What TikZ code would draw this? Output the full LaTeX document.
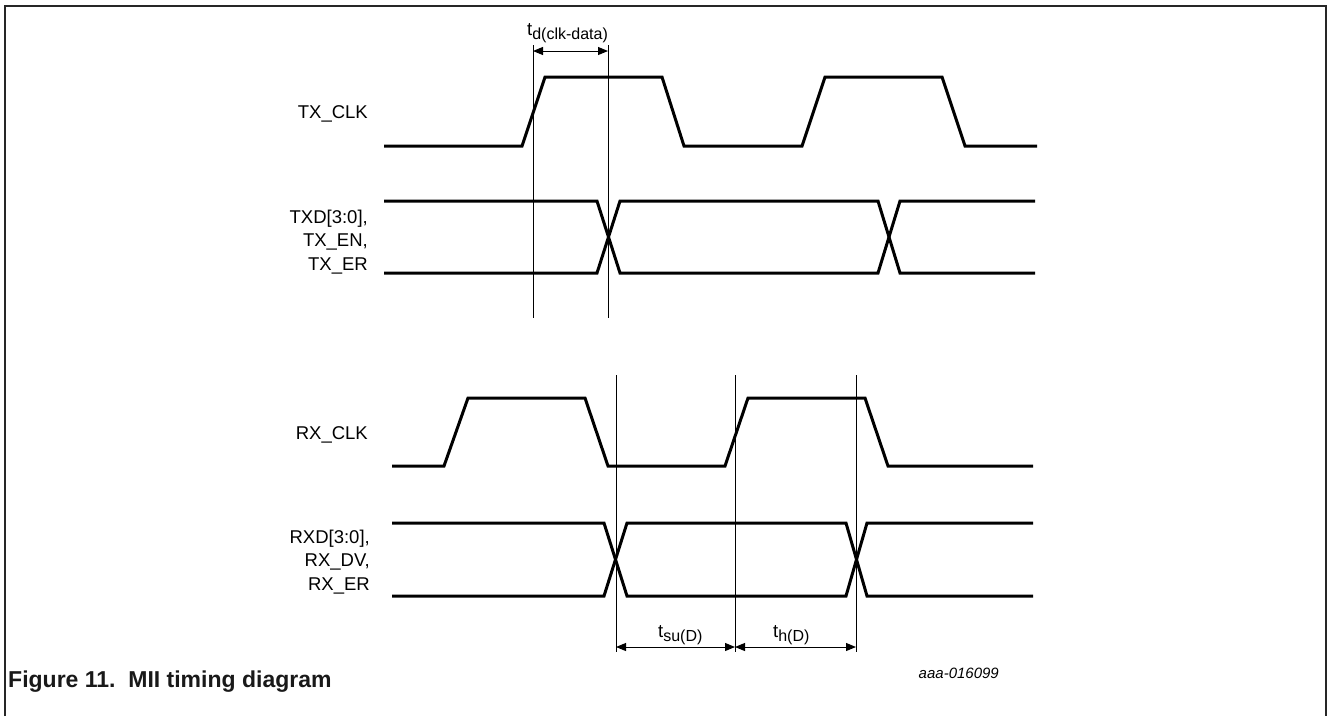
\documentclass[tikz,border=0pt]{standalone}
\usepackage{fontspec}
\setmainfont{Liberation Sans}
\usetikzlibrary{arrows.meta}

\tikzset{%
  % Specifications for style of lines and labels:
        wave/.style = {line width=3pt, line join=miter, line cap=butt},
      marker/.style = {line width=1pt},
         dim/.style = {line width=1pt, {Triangle[length=10pt,width=8pt]}-{Triangle[length=10pt,width=8pt]}},
    siglabel/.style = {align=right, anchor=east, inner sep=0pt, font=\fontsize{18.5}{23.5}\selectfont},
   timelabel/.style = {anchor=base west, inner sep=0pt, font=\fontsize{18.5}{22}\selectfont},
}
\newcommand{\tparam}[1]{t\raisebox{-4.5pt}{\fontsize{16}{18}\selectfont #1}}

\begin{document}
\begin{tikzpicture}[x=1pt, y=-1pt]
    \useasboundingbox (0,0) rectangle (1328,716);

    % Frame
    \draw[line width=2pt, gray!30!black] (5,716) -- (5,6) -- (1326,6) -- (1326,716);

    % Signal names
    \node (txclk)  [siglabel] at (368,114) {TX\_CLK};
    \node (txd)    [siglabel] at (368,242) {TXD[3:0],\\TX\_EN,\\TX\_ER};
    \node (rxclk)  [siglabel] at (368,435) {RX\_CLK};
    \node (rxd)    [siglabel] at (370,562) {RXD[3:0],\\RX\_DV,\\RX\_ER};

    % Draw waveforms
    \draw[wave] (384,146) -- (522,146) -- (545,77) -- (662,77) -- (684,146) -- (802,146)
                -- (825,77) -- (942,77) -- (965,146) -- (1037,146);
    \draw[wave] (384,201) -- (597,201) -- (620,273) -- (878,273) -- (900,201) -- (1035,201);
    \draw[wave] (384,273) -- (597,273) -- (620,201) -- (878,201) -- (900,273) -- (1035,273);

    \draw[wave] (392,466) -- (444,466) -- (468,398) -- (585,398) -- (608,466) -- (725,466)
                -- (748,398) -- (865,398) -- (888,466) -- (1033,466);
    \draw[wave] (392,523) -- (604,523) -- (627,596) -- (846,596) -- (867,523) -- (1033,523);
    \draw[wave] (392,596) -- (604,596) -- (627,523) -- (846,523) -- (867,596) -- (1033,596);

    % Timing markers
    \coordinate (tdA) at (533,51);
    \coordinate (tdB) at (608,51);
    \coordinate (suA) at (616,647);
    \coordinate (suB) at (735,647);
    \coordinate (hB)  at (856,647);

    \draw[marker] (533,45) -- (533,318);
    \draw[marker] (608,45) -- (608,318);
    \draw[marker] (616,375) -- (616,652);
    \draw[marker] (735,375) -- (735,652);
    \draw[marker] (856,375) -- (856,652);

    % Draw arrows
    \draw[dim] (tdA) -- (tdB);
    \draw[dim] (suA) -- (suB);
    \draw[dim] (suB) -- (hB);

    \node (td) [timelabel] at (527,35)  {\tparam{d(clk-data)}};
    \node (tsu) [timelabel] at (658,637) {\tparam{su(D)}};
    \node (th) [timelabel] at (773,637) {\tparam{h(D)}};

    % Drawing number and caption
    \node (ref) [anchor=base east, inner sep=0pt, font=\fontsize{15}{18}\selectfont\itshape] at (999,678) {aaa-016099};
    \node (cap) [anchor=base west, inner sep=0pt, text=gray!20!black, font=\fontsize{23}{27}\selectfont\bfseries] at (8,687) {Figure 11.\ \ MII timing diagram};
\end{tikzpicture}
\end{document}
